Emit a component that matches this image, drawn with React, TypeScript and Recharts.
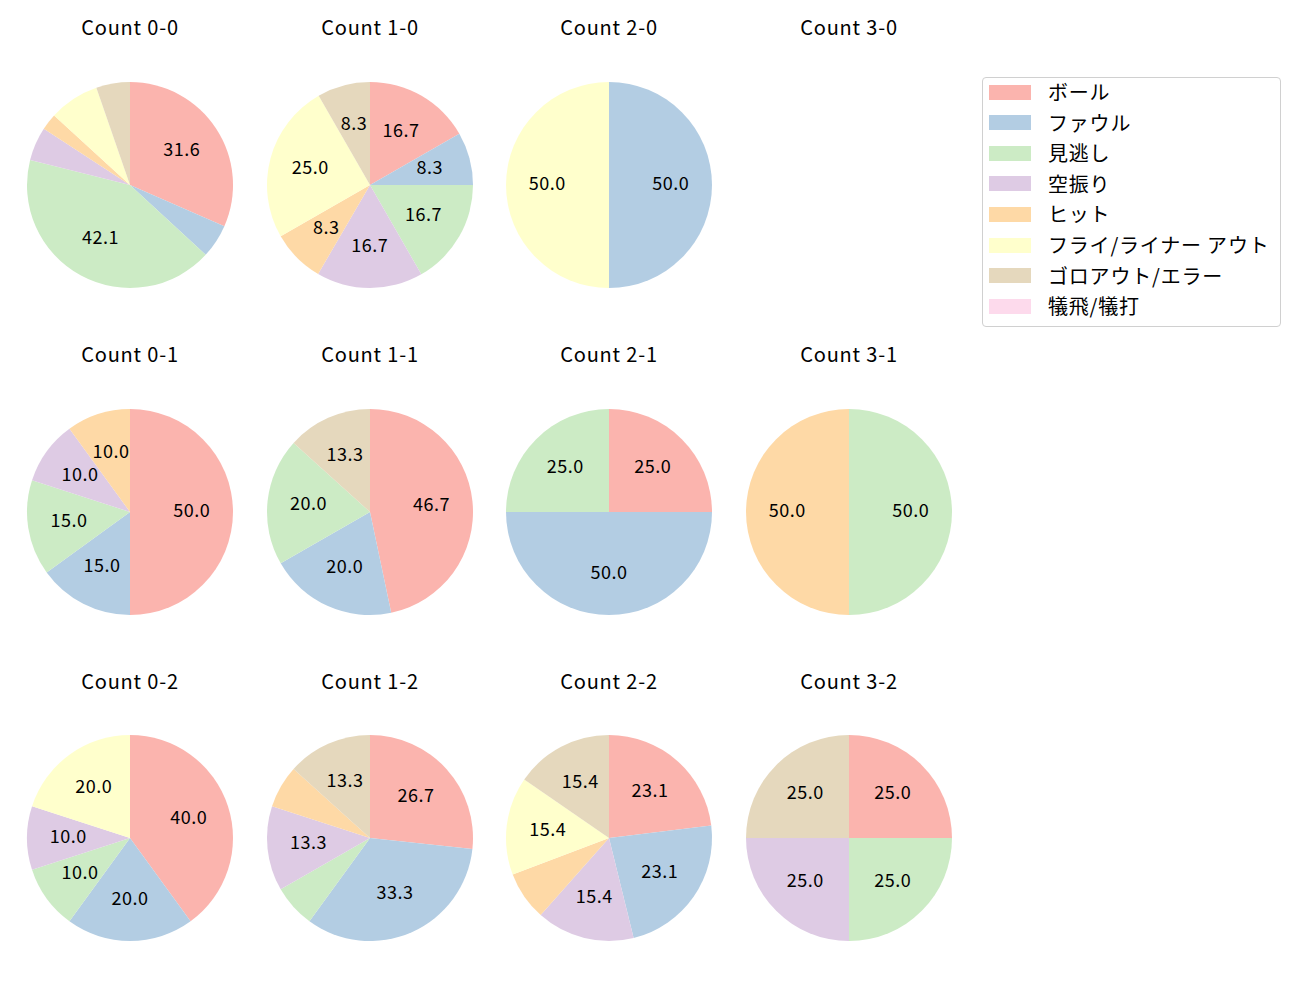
import React from 'react';
import { PieChart, Pie, Cell } from 'recharts';

const categories = ['ボール', 'ファウル', '見逃し', '空振り', 'ヒット', 'フライ/ライナー アウト', 'ゴロアウト/エラー', '犠飛/犠打'];
const colors = ['#fbb4ae', '#b3cde3', '#ccebc5', '#decbe4', '#fed9a6', '#ffffcc', '#e5d8bd', '#fddaec'];

// percentages per count, in category order
const count00 = [31.6, 5.3, 42.1, 5.3, 2.6, 7.9, 5.3, 0];
const count10 = [16.7, 8.3, 16.7, 16.7, 8.3, 25.0, 8.3, 0];
const count20 = [0, 50.0, 0, 0, 0, 50.0, 0, 0];
const count30: number[] = [];
const count01 = [50.0, 15.0, 15.0, 10.0, 10.0, 0, 0, 0];
const count11 = [46.7, 20.0, 20.0, 0, 0, 0, 13.3, 0];
const count21 = [25.0, 50.0, 25.0, 0, 0, 0, 0, 0];
const count31 = [0, 0, 50.0, 0, 50.0, 0, 0, 0];
const count02 = [40.0, 20.0, 10.0, 10.0, 0, 20.0, 0, 0];
const count12 = [26.7, 33.3, 6.7, 13.3, 6.7, 0, 13.3, 0];
const count22 = [23.1, 23.1, 0, 15.4, 7.7, 15.4, 15.4, 0];
const count32 = [25.0, 0, 25.0, 25.0, 0, 0, 25.0, 0];

const panels = [
  { title: 'Count 0-0', values: count00 },
  { title: 'Count 1-0', values: count10 },
  { title: 'Count 2-0', values: count20 },
  { title: 'Count 3-0', values: count30 },
  { title: 'Count 0-1', values: count01 },
  { title: 'Count 1-1', values: count11 },
  { title: 'Count 2-1', values: count21 },
  { title: 'Count 3-1', values: count31 },
  { title: 'Count 0-2', values: count02 },
  { title: 'Count 1-2', values: count12 },
  { title: 'Count 2-2', values: count22 },
  { title: 'Count 3-2', values: count32 },
];

const colX = [130, 370, 609, 849];
const rowY = [185, 512, 838];
const titleY = [28, 355, 682];
const RADIUS = 103;
const FONT = '"Noto Sans CJK JP", "Noto Sans", sans-serif';
const RAD = Math.PI / 180;

const renderLabel = (props: any) => {
  const { cx, cy, midAngle, outerRadius, value } = props;
  if (value < 8) return null;
  const r = outerRadius * 0.6;
  const x = cx + r * Math.cos(-midAngle * RAD);
  const y = cy + r * Math.sin(-midAngle * RAD) - 3;
  return (
    <text
      x={x}
      y={y}
      textAnchor="middle"
      dominantBaseline="central"
      fill="#000"
      fontSize={18}
      letterSpacing={0.5}
      fontFamily={FONT}
    >
      {value.toFixed(1)}
    </text>
  );
};

export default function App() {
  return (
    <div style={{ position: 'absolute', left: 0, top: 0, width: 1300, height: 1000, background: '#fff', fontFamily: FONT }}>
      <PieChart width={1300} height={1000} margin={{ top: 0, right: 0, bottom: 0, left: 0 }}>
        {panels.map((p, i) => {
          const data = p.values
            .map((v, k) => ({ name: categories[k], value: v, color: colors[k] }))
            .filter(d => d.value > 0);
          if (data.length === 0) return null;
          return (
            <Pie
              key={p.title}
              data={data}
              dataKey="value"
              cx={colX[i % 4]}
              cy={rowY[Math.floor(i / 4)]}
              outerRadius={RADIUS}
              startAngle={90}
              endAngle={-270}
              stroke="none"
              label={renderLabel}
              labelLine={false}
              isAnimationActive={false}
            >
              {data.map(d => (
                <Cell key={d.name} fill={d.color} />
              ))}
            </Pie>
          );
        })}
      </PieChart>

      {panels.map((p, i) => (
        <div
          key={'t' + p.title}
          style={{
            position: 'absolute',
            left: colX[i % 4] - 100,
            width: 200,
            top: titleY[Math.floor(i / 4)] - 13,
            height: 24,
            lineHeight: '24px',
            textAlign: 'center',
            fontSize: 20,
            letterSpacing: 0.8,
            color: '#000',
          }}
        >
          {p.title}
        </div>
      ))}

      <div
        style={{
          position: 'absolute',
          left: 982,
          top: 77,
          width: 299,
          height: 250,
          border: '1px solid #d0d0d0',
          borderRadius: 4,
          boxSizing: 'border-box',
        }}
      >
        {categories.map((c, k) => (
          <div key={c} style={{ position: 'absolute', left: 0, top: -1 + k * 30.6, height: 30, display: 'flex', alignItems: 'center' }}>
            <div style={{ marginLeft: 6, width: 42, height: 15, background: colors[k] }} />
            <span style={{ marginLeft: 17, fontSize: 20, letterSpacing: 0.8, lineHeight: '30px', color: '#000', whiteSpace: 'nowrap' }}>{c}</span>
          </div>
        ))}
      </div>
    </div>
  );
}
